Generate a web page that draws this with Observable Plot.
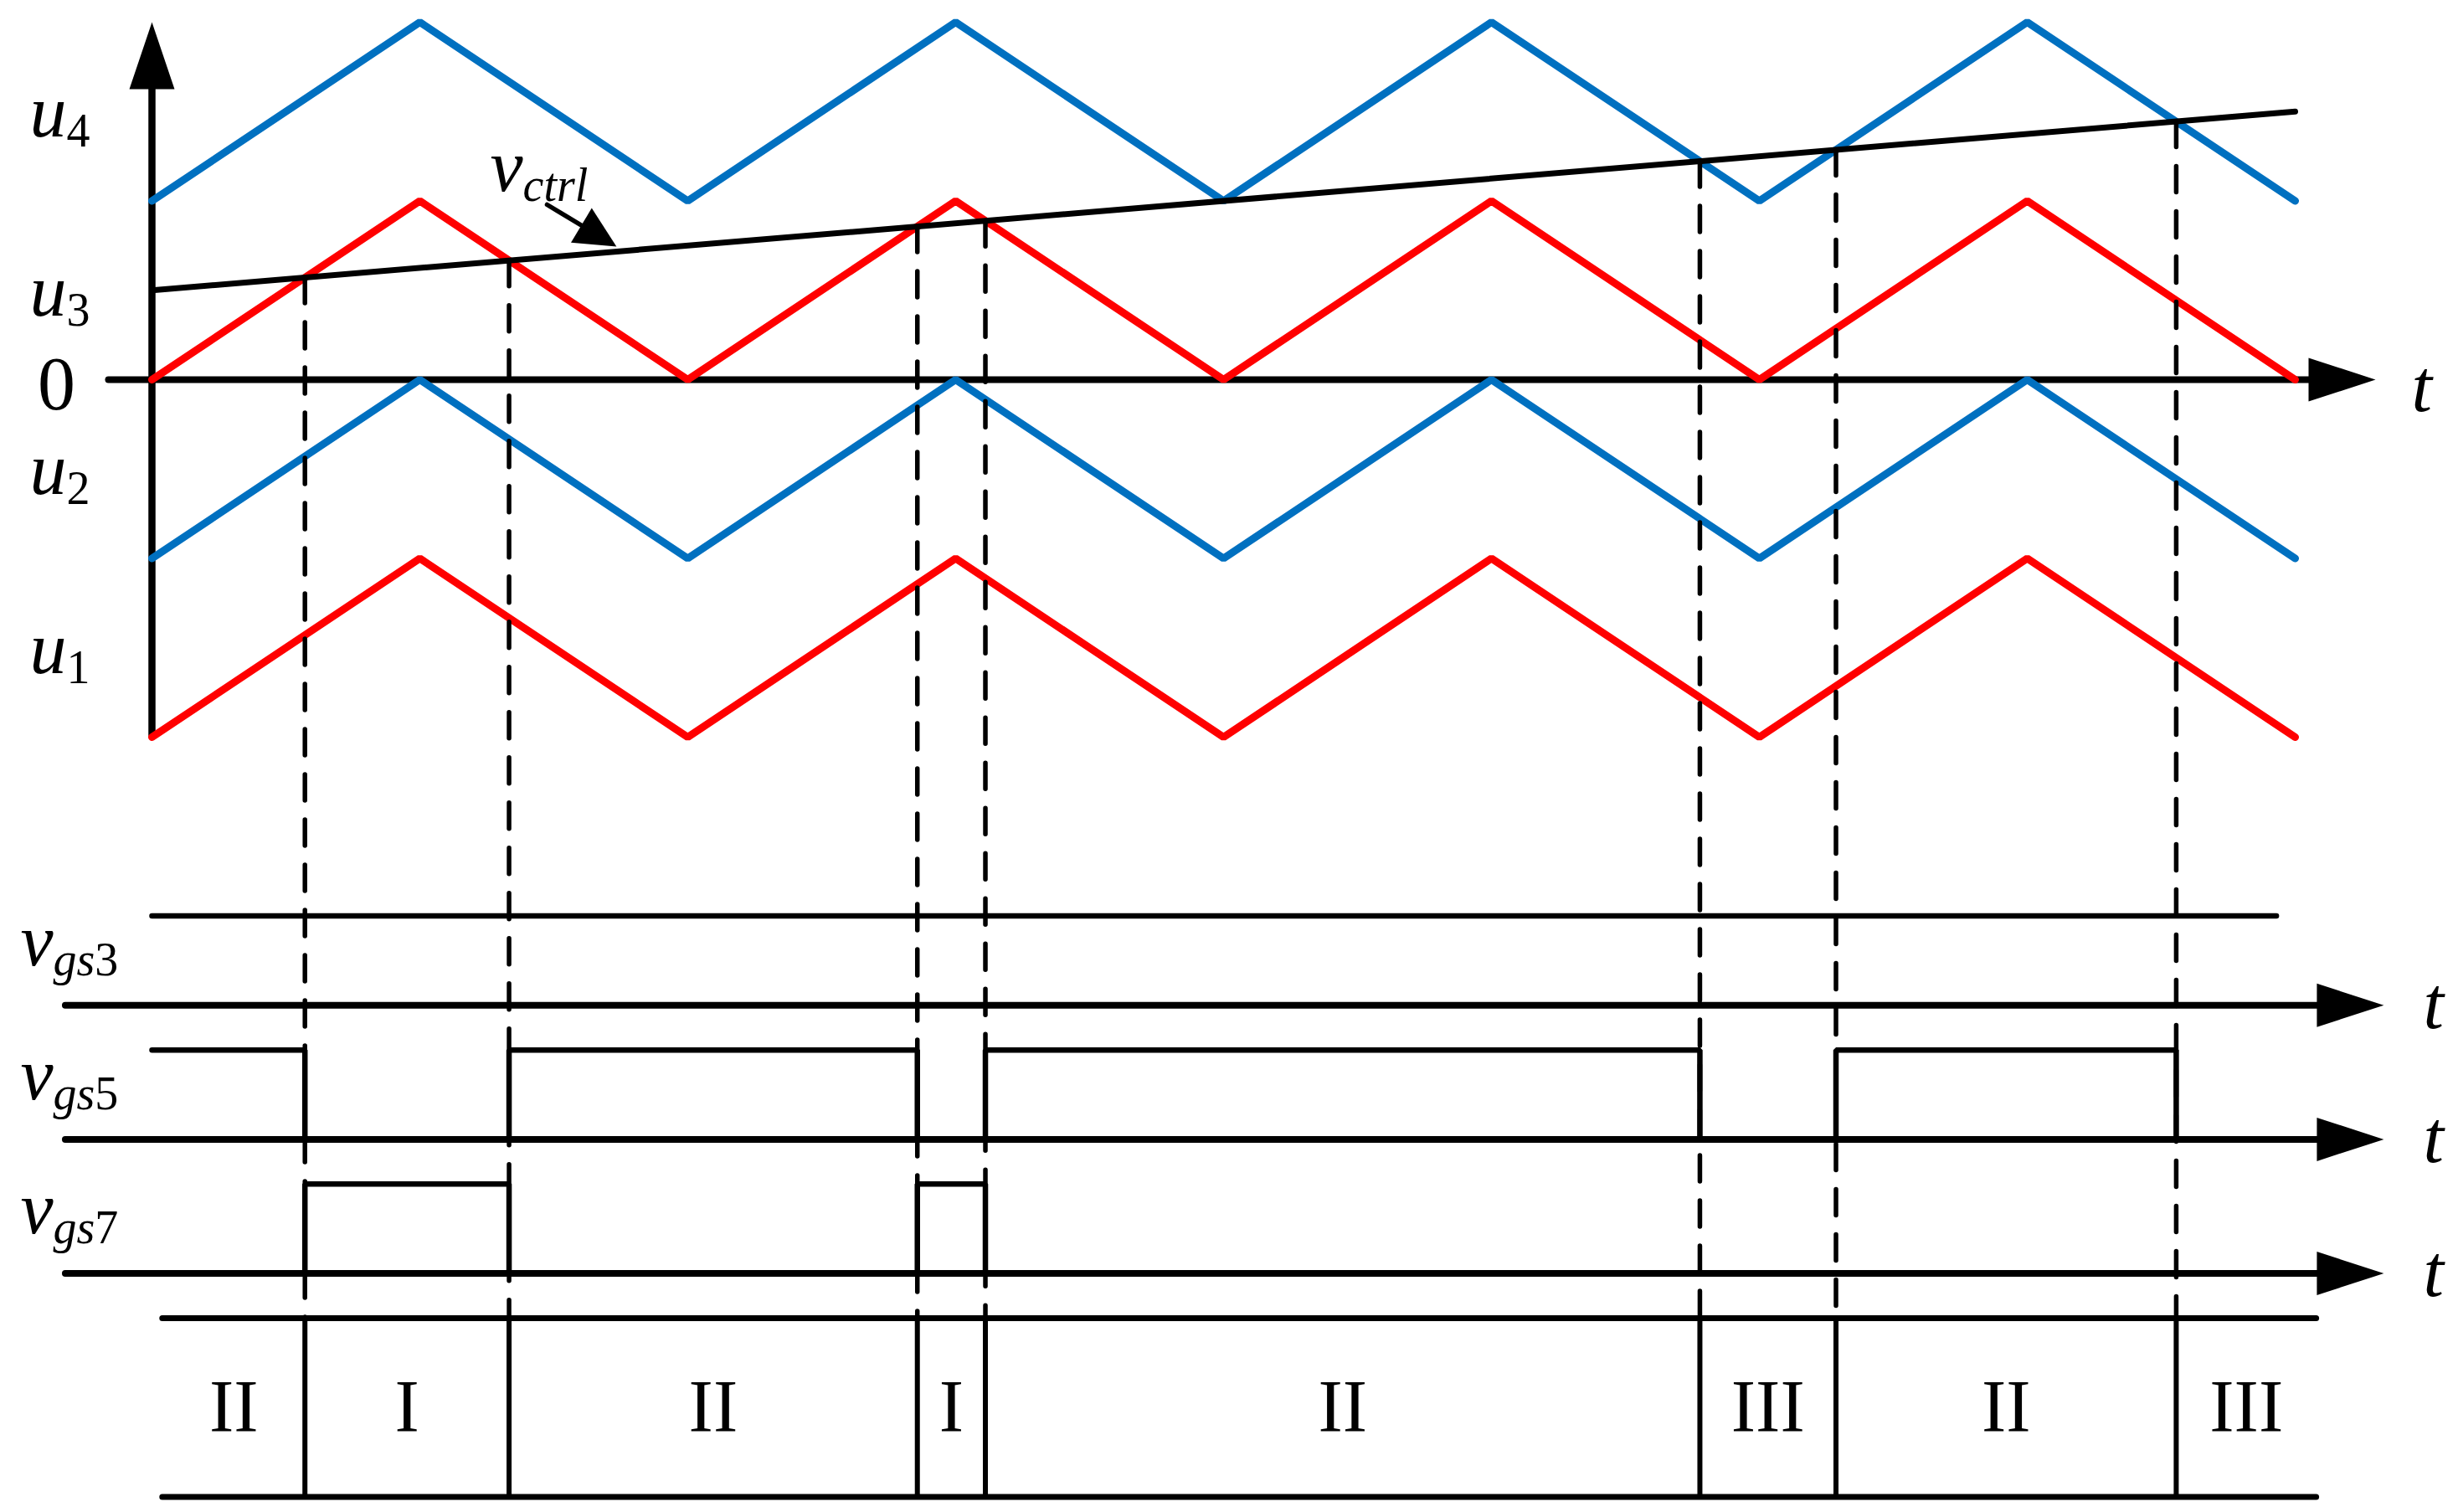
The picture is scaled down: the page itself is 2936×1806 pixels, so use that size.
<!DOCTYPE html>
<html><head><meta charset="utf-8">
<script src="https://cdn.jsdelivr.net/npm/d3@7"></script>
<script src="https://cdn.jsdelivr.net/npm/@observablehq/plot@0.6"></script>
<style>
html,body{margin:0;padding:0;background:#fff;overflow:hidden;}
#chart svg{display:block;}
</style>
</head><body><div id="chart"></div>
<script>
// ---------------- data ----------------
const carrierT = [0, 1, 2, 3, 4, 5, 6, 7, 8];
const u4 = [1, 2, 1, 2, 1, 2, 1, 2, 1];
const u3 = [0, 1, 0, 1, 0, 1, 0, 1, 0];
const u2 = [-1, 0, -1, 0, -1, 0, -1, 0, -1];
const u1 = [-2, -1, -2, -1, -2, -1, -2, -1, -2];
const vctrlT = [0, 8];
const vctrlV = [0.5, 1.5];
const switchT = [0.571, 1.333, 2.857, 3.111, 5.778, 6.286, 7.556];
const vgs3T = [0, 7.93];
const vgs3S = [1, 1];
const vgs5T = [0, 0.571, 1.333, 2.857, 3.111, 5.778, 6.286, 7.556];
const vgs5S = [1, 0, 1, 0, 1, 0, 1, 0];
const vgs7T = [0, 0.571, 1.333, 2.857, 3.111];
const vgs7S = [0, 1, 0, 1, 0];
const regionEdges = [0.04, 0.571, 1.333, 2.857, 3.111, 5.778, 6.286, 7.556, 8.08];
const regionLabels = ["II", "I", "II", "I", "II", "III", "II", "III"];
const yLabels = ["u_4", "u_3", "u_2", "u_1"];
const yLabelV = [1.5, 0.5, -0.5, -1.5];
const traceLabels = ["v_gs3", "v_gs5", "v_gs7"];
const vctrlLabel = {text: "v_ctrl", t: 1.2625, v: 1.054};
const vctrlPointer = {t1: 1.475, v1: 0.979, t2: 1.734, v2: 0.745};

// ---------------- layout ----------------
const W = 2936, H = 1806;
const XR = [181, 2741], YR = [880, 26];
const XD = [0, 8], YD = [-2, 2];
const traceBase = [-3.5, -4.25, -5.0];
const amp = 0.5;
const boxTop = -5.25, boxBot = -6.25;
const FONT = "Liberation Serif";
const FS = 88, SUB_FS = 56, SUB_DY = 12;
const BLUE = "#0070C0", RED = "#FF0000";

const xs = d3.scaleLinear(XD, XR), ys = d3.scaleLinear(YD, YR);
const vctrlAt = d3.scaleLinear(vctrlT, vctrlV);

const tri = {draw(ctx, l, r) { ctx.moveTo(-r, 0); ctx.lineTo(0, -l); ctx.lineTo(r, 0); ctx.closePath(); }};

const series = (T, V) => T.map((t, i) => ({t, v: V[i]}));
const carrier = (V, color) => Plot.line(series(carrierT, V), {x: "t", y: "v", stroke: color, strokeWidth: 9, strokeLinejoin: "miter", strokeLinecap: "round"});

const marks = [];
// upper axes
marks.push(Plot.ruleY([0], {x1: -0.161, x2: 8.1, stroke: "black", strokeWidth: 8, strokeLinecap: "round"}));
marks.push(Plot.vector([{t: 8.3, v: 0}], {x: "t", y: "v", rotate: 90, length: 80, r: 26, anchor: "end", shape: tri, fill: "black", stroke: "none"}));
marks.push(Plot.ruleX([0], {y1: -1.99, y2: 1.8, stroke: "black", strokeWidth: 8.5, strokeLinecap: "round"}));
marks.push(Plot.vector([{t: 0, v: 2.0}], {x: "t", y: "v", rotate: 0, length: 80, r: 27, anchor: "end", shape: tri, fill: "black", stroke: "none"}));
// carriers
marks.push(carrier(u4, BLUE), carrier(u3, RED), carrier(u2, BLUE), carrier(u1, RED));
// control signal
marks.push(Plot.line(series(vctrlT, vctrlV), {x: "t", y: "v", stroke: "black", strokeWidth: 7}));
// dashed projection lines
marks.push(Plot.ruleX(switchT, {x: d => d, y1: d => vctrlAt(d), y2: boxTop, stroke: "black", strokeWidth: 5.5, strokeDasharray: "31,23", strokeLinecap: "round"}));
// lower traces
const traces = [[vgs3T, vgs3S], [vgs5T, vgs5S], [vgs7T, vgs7S]];
traces.forEach(([T, S], k) => {
  const b = traceBase[k];
  marks.push(Plot.ruleY([b], {x1: -0.322, x2: 8.1, stroke: "black", strokeWidth: 8, strokeLinecap: "round"}));
  marks.push(Plot.vector([{t: 8.331, v: b}], {x: "t", y: "v", rotate: 90, length: 80, r: 26, anchor: "end", shape: tri, fill: "black", stroke: "none"}));
  marks.push(Plot.line(series(T, S), {x: "t", y: d => b + amp * d.v, curve: "step-after", stroke: "black", strokeWidth: 6.5, strokeLinejoin: "miter", strokeLinecap: "round"}));
  marks.push(Plot.text([traceLabels[k]], {x: 0, y: b + 0.225, dx: -157, text: d => d, textAnchor: "start", lineAnchor: "bottom", fontSize: FS, fontFamily: FONT}));
  marks.push(Plot.text(["t"], {x: 8.331, y: b, dx: 47, dy: 27, text: d => d, textAnchor: "start", lineAnchor: "bottom", fontSize: FS, fontFamily: FONT, fontStyle: "italic"}));
});
// region box
marks.push(Plot.ruleY([boxTop, boxBot], {x1: regionEdges[0], x2: regionEdges[regionEdges.length - 1], stroke: "black", strokeWidth: 7, strokeLinecap: "round"}));
marks.push(Plot.ruleX(switchT, {x: d => d, y1: boxTop, y2: boxBot, stroke: "black", strokeWidth: 6}));
const regions = regionLabels.map((s, i) => ({s, t: (regionEdges[i] + regionEdges[i + 1]) / 2}));
marks.push(Plot.text(regions, {x: "t", y: (boxTop + boxBot) / 2, text: "s", textAnchor: "middle", lineAnchor: "middle", fontSize: FS, fontFamily: FONT}));
// upper labels
marks.push(Plot.text(yLabels.map((s, i) => ({s, v: yLabelV[i]})), {x: 0, y: "v", dx: -146, dy: 2, text: "s", textAnchor: "start", lineAnchor: "middle", fontSize: FS, fontFamily: FONT}));
marks.push(Plot.text(["0"], {x: 0, y: 0, dx: -114, dy: 35, text: d => d, textAnchor: "middle", lineAnchor: "bottom", fontSize: 90, fontFamily: FONT}));
marks.push(Plot.text(["t"], {x: 8.3, y: 0, dx: 43, dy: 37, text: d => d, textAnchor: "start", lineAnchor: "bottom", fontSize: FS, fontFamily: FONT, fontStyle: "italic"}));
marks.push(Plot.text([vctrlLabel], {x: "t", y: "v", text: "text", textAnchor: "start", lineAnchor: "bottom", fontSize: FS, fontFamily: FONT}));
// pointer arrow for v_ctrl
const p = vctrlPointer;
const px1 = xs(p.t1), py1 = ys(p.v1), px2 = xs(p.t2), py2 = ys(p.v2);
const ang = Math.atan2(px2 - px1, -(py2 - py1)) * 180 / Math.PI;
const len = Math.hypot(px2 - px1, py2 - py1);
const headL = 49;
const shaftEnd = {t: xs.invert(px2 - (px2 - px1) / len * headL * 0.6), v: ys.invert(py2 - (py2 - py1) / len * headL * 0.6)};
marks.push(Plot.link([{...p, te: shaftEnd.t, ve: shaftEnd.v}], {x1: "t1", y1: "v1", x2: "te", y2: "ve", stroke: "black", strokeWidth: 5.5, strokeLinecap: "round"}));
marks.push(Plot.vector([p], {x: "t2", y: "v2", rotate: ang, length: headL, r: 24, anchor: "end", shape: tri, fill: "black", stroke: "none"}));

const svg = Plot.plot({
  width: W, height: H,
  marginTop: 0, marginRight: 0, marginBottom: 0, marginLeft: 0,
  x: {domain: XD, range: XR, axis: null},
  y: {domain: YD, range: YR, axis: null},
  style: {background: "white", color: "black"},
  marks
});

// subscripts: "base_sub" -> italic base + smaller lowered subscript
const NS = "http://www.w3.org/2000/svg";
svg.querySelectorAll("text").forEach(el => {
  const s = el.textContent;
  if (!s.includes("_")) return;
  const [base, sub] = s.split("_");
  el.textContent = "";
  el.setAttribute("font-family", FONT);
  const t1 = document.createElementNS(NS, "tspan");
  t1.textContent = base;
  t1.setAttribute("font-style", "italic");
  t1.setAttribute("font-family", FONT);
  el.appendChild(t1);
  (sub.match(/[0-9]+|[^0-9]+/g) || []).forEach((r, k) => {
    const ts = document.createElementNS(NS, "tspan");
    ts.textContent = r;
    ts.setAttribute("font-size", SUB_FS);
    ts.setAttribute("font-family", FONT);
    ts.setAttribute("font-style", /[0-9]/.test(r) ? "normal" : "italic");
    if (k === 0) ts.setAttribute("dy", SUB_DY);
    el.appendChild(ts);
  });
});
document.getElementById("chart").appendChild(svg);
</script>
</body></html>
